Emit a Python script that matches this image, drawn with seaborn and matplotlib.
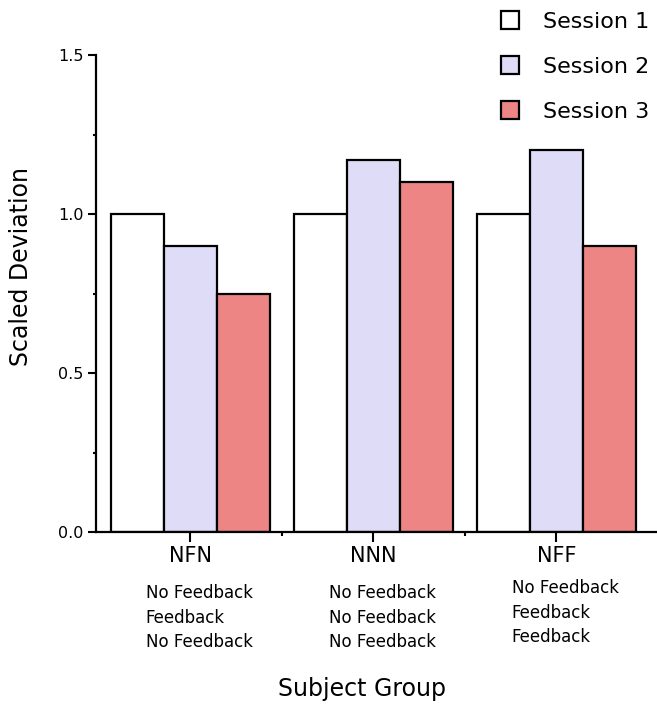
import matplotlib
matplotlib.use("Agg")
import matplotlib.pyplot as plt
import seaborn as sns
import pandas as pd
from matplotlib.lines import Line2D
from matplotlib.ticker import MultipleLocator, FormatStrFormatter

groups = ["NFN", "NNN", "NFF"]
sessions = ["Session 1", "Session 2", "Session 3"]
session1 = [1.0, 1.0, 1.0]
session2 = [0.90, 1.17, 1.20]
session3 = [0.75, 1.10, 0.90]
group_desc = [
    ["No Feedback", "Feedback", "No Feedback"],
    ["No Feedback", "No Feedback", "No Feedback"],
    ["No Feedback", "Feedback", "Feedback"],
]
colors = ["#ffffff", "#dedcf6", "#ee8585"]

rows = []
for s, vals in zip(sessions, [session1, session2, session3]):
    for g, v in zip(groups, vals):
        rows.append({"group": g, "session": s, "value": v})
df = pd.DataFrame(rows)

sns.set_style("ticks")
plt.rcParams["font.family"] = ["DejaVu Sans"]
plt.rcParams["text.color"] = "black"
plt.rcParams["axes.labelcolor"] = "black"
plt.rcParams["xtick.color"] = "black"
plt.rcParams["ytick.color"] = "black"

fig = plt.figure(figsize=(6.57, 7.10), dpi=100)
ax = fig.add_axes([0.146, 0.2507, 0.854, 0.6718])

sns.barplot(data=df, x="group", y="value", hue="session", order=groups,
            hue_order=sessions, palette=colors, width=0.87, edgecolor="black",
            linewidth=1.6, legend=False, ax=ax, errorbar=None, saturation=1)

ax.set_ylim(0, 1.5)
ax.set_xlim(-0.516, 2.55)
ax.yaxis.set_major_locator(MultipleLocator(0.5))
ax.yaxis.set_minor_locator(MultipleLocator(0.25))
ax.yaxis.set_major_formatter(FormatStrFormatter("%.1f"))
ax.set_xticks(range(len(groups)))
ax.set_xticklabels(groups)
ax.set_xticks([0.5, 1.5], minor=True)

for sp in ["top", "right"]:
    ax.spines[sp].set_visible(False)
for sp in ["left", "bottom"]:
    ax.spines[sp].set_linewidth(1.6)
    ax.spines[sp].set_color("black")

ax.tick_params(axis="y", which="major", length=6, width=1.5, labelsize=11.5, pad=3)
ax.tick_params(axis="y", which="minor", length=2, width=1.5)
ax.tick_params(axis="x", which="major", length=7, width=1.5, labelsize=15, pad=3)
ax.tick_params(axis="x", which="minor", length=3, width=1.5)

ax.set_xlabel("")
ax.set_ylabel("Scaled Deviation", fontsize=17)
ax.yaxis.set_label_coords(-0.112, 0.556)

fig.text(0.551, 0.012, "Subject Group", fontsize=17, ha="center", va="bottom")

y_offsets = [0.0, 0.0, 0.011]
for i, desc in enumerate(group_desc):
    ax.text(i - 0.245, -0.110 + y_offsets[i], "\n".join(desc), transform=ax.get_xaxis_transform(),
            ha="left", va="top", fontsize=12, linespacing=1.45)

handles = [Line2D([0], [0], marker="s", linestyle="none", markersize=12.5,
                  markerfacecolor=c, markeredgecolor="black", markeredgewidth=1.6)
           for c in colors]
leg = fig.legend(handles, sessions, loc="upper left", bbox_to_anchor=(0.749, 0.993),
                 frameon=False, fontsize=16, handlelength=1.0, handletextpad=1.0,
                 labelspacing=1.13, borderpad=0.3, borderaxespad=0)

fig.savefig("out.png", dpi=100)
